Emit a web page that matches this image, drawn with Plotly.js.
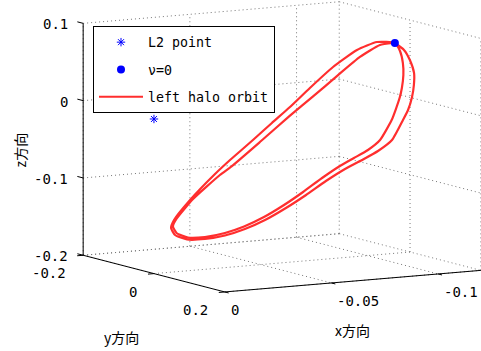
<!DOCTYPE html>
<html>
<head>
<meta charset="utf-8">
<script src="https://cdn.plot.ly/plotly-3.0.1.min.js"></script>
<style>html,body{margin:0;padding:0;background:#fff}#plot{width:481px;height:351px}</style>
</head>
<body>
<div id="plot"></div>
<script>
// ---- data: halo orbit, two revolutions ----
var orbitX = [-0.1129,-0.1155,-0.1166,-0.1169,-0.1160,-0.1143,-0.1116,-0.1084,-0.1016,-0.0942,-0.0859,-0.0771,-0.0673,-0.0580,-0.0489,-0.0401,-0.0320,-0.0243,-0.0169,-0.0112,-0.0079,-0.0080,-0.0114,-0.0219,-0.0369,-0.0456,-0.0580,-0.0677,-0.0770,-0.0855,-0.0947,-0.1026,-0.1078,-0.1129,
  -0.1133,-0.1130,-0.1119,-0.1102,-0.1086,-0.1059,-0.1031,-0.0960,-0.0895,-0.0821,-0.0747,-0.0655,-0.0566,-0.0480,-0.0396,-0.0316,-0.0243,-0.0169,-0.0116,-0.0086,-0.0089,-0.0125,-0.0233,-0.0392,-0.0465,-0.0618,-0.0766,-0.0870,-0.0965,-0.1040,-0.1092,-0.1120];
var orbitY = [0,0.01,0.02,0.03,0.035,0.04,0.045,0.05,0.06,0.065,0.07,0.075,0.08,0.08,0.078,0.072,0.064,0.054,0.042,0.026,0.012,0,-0.012,-0.03,-0.05,-0.06,-0.07,-0.075,-0.08,-0.075,-0.065,-0.045,-0.02,0,
  0.012,0.022,0.03,0.036,0.04,0.045,0.05,0.06,0.065,0.07,0.075,0.08,0.08,0.078,0.072,0.064,0.054,0.042,0.026,0.012,0,-0.012,-0.03,-0.05,-0.06,-0.07,-0.08,-0.075,-0.065,-0.045,-0.02,0];
var orbitZ = [0.0720,0.0636,0.0515,0.0359,0.0211,0.0066,-0.0090,-0.0206,-0.0437,-0.0556,-0.0647,-0.0737,-0.0864,-0.1023,-0.1173,-0.1315,-0.1422,-0.1500,-0.1542,-0.1554,-0.1505,-0.1429,-0.1347,-0.1134,-0.0857,-0.0708,-0.0490,-0.0298,-0.0119,0.0113,0.0375,0.0600,0.0721,0.0720,
  0.0630,0.0487,0.0344,0.0187,0.0079,-0.0064,-0.0194,-0.0424,-0.0532,-0.0613,-0.0693,-0.0821,-0.0981,-0.1132,-0.1275,-0.1388,-0.1467,-0.1516,-0.1529,-0.1480,-0.1411,-0.1337,-0.1125,-0.0875,-0.0788,-0.0512,-0.0240,0.0000,0.0253,0.0507,0.0679,0.0722];
var l2X = [0], l2Y = [0], l2Z = [0];
var nu0X = [-0.1129], nu0Y = [0], nu0Z = [0.0720];

var xRange = [-0.12, 0], yRange = [-0.2, 0.2], zRange = [-0.2, 0.1];
var xTicks = [-0.1, -0.05, 0], xTickText = ['-0.1', '-0.05', '0'];
var yTicks = [-0.2, 0, 0.2],   yTickText = ['-0.2', '0', '0.2'];
var zTicks = [-0.2, -0.1, 0, 0.1], zTickText = ['-0.2', '-0.1', '0', '0.1'];
var legendNames = ['L2 point', '\u03bd=0', 'left halo orbit'];
var axisTitles = ['x方向', 'y方向', 'z方向'];

// ---- 3D view (orthographic), like MATLAB view(az, el) ----
var AZ = 60.3 * Math.PI / 180, EL = 8.5 * Math.PI / 180;
var BOX = {x: 294.8, y: 285.8, z: 234.5};       // box edge lengths in screen px
var sA = Math.sin(AZ), cA = Math.cos(AZ), sE = Math.sin(EL), cE = Math.cos(EL);
function mid(r){ return (r[0] + r[1]) / 2; }
function span(r){ return r[1] - r[0]; }
function proj(x, y, z) {
  var nx = (x - mid(xRange)) / span(xRange) * BOX.x;
  var ny = (y - mid(yRange)) / span(yRange) * BOX.y;
  var nz = (z - mid(zRange)) / span(zRange) * BOX.z;
  return [ -sA * nx + cA * ny,
           -cA * sE * nx - sA * sE * ny + cE * nz ];
}
function projArrays(X, Y, Z) {
  var u = [], v = [];
  for (var i = 0; i < X.length; i++) { var p = proj(X[i], Y[i], Z[i]); u.push(p[0]); v.push(p[1]); }
  return {u: u, v: v};
}
function Seg() { this.u = []; this.v = []; }
Seg.prototype.add = function (a, b) {
  var p = proj(a[0], a[1], a[2]), q = proj(b[0], b[1], b[2]);
  this.u.push(p[0], q[0], null); this.v.push(p[1], q[1], null);
};
Seg.prototype.addPx = function (p, q) { this.u.push(p[0], q[0], null); this.v.push(p[1], q[1], null); };

var x0 = xRange[0], x1 = xRange[1], y0 = yRange[0], y1 = yRange[1], z0 = zRange[0], z1 = zRange[1];

// grid on the back planes (x = xmin, y = ymin, z = zmin)
var grid = new Seg();
xTicks.forEach(function (t) {
  grid.add([t, y0, z0], [t, y1, z0]);
  grid.add([t, y0, z0], [t, y0, z1]);
});
yTicks.forEach(function (t) {
  grid.add([x0, t, z0], [x1, t, z0]);
  grid.add([x0, t, z0], [x0, t, z1]);
});
zTicks.forEach(function (t) {
  grid.add([x0, y0, t], [x1, y0, t]);
  grid.add([x0, y0, t], [x0, y1, t]);
});

// axis lines
var axes = new Seg();
axes.add([x1, y0, z0], [x1, y0, z1]);     // z axis
axes.add([x1, y0, z0], [x1, y1, z0]);     // y axis
axes.add([x0, y1, z0], [x1, y1, z0]);     // x axis

// tick marks
var TL = 6;
function dirPx(d) {
  var p = proj(d[0] + mid(xRange), d[1] + mid(yRange), d[2] + mid(zRange));
  var n = Math.sqrt(p[0] * p[0] + p[1] * p[1]); return [p[0] / n, p[1] / n];
}
var ticks = new Seg();
var dZ = dirPx([0, -1, 0]), dY = dirPx([1, 0, 0]), dX = dirPx([0, 1, 0]);
zTicks.forEach(function (t) { var p = proj(x1, y0, t); ticks.addPx(p, [p[0] + TL * dZ[0], p[1] + TL * dZ[1]]); });
yTicks.forEach(function (t) { var p = proj(x1, t, z0); ticks.addPx(p, [p[0] + TL * dY[0], p[1] + TL * dY[1]]); });
xTicks.forEach(function (t) { var p = proj(t, y1, z0); ticks.addPx(p, [p[0] + 4 * dX[0], p[1] + 4 * dX[1]]); });

// tick labels and axis titles
var tickFont = {family: 'DejaVu Sans Mono', size: 14, color: '#000'};
var titleFont = {family: 'Noto Sans CJK JP', size: 14, color: '#000'};
var ann = [];
function label(p, text, xa, ya, dx, dy, font, angle) {
  ann.push({x: p[0], y: p[1], xref: 'x', yref: 'y', text: text, showarrow: false,
            xanchor: xa, yanchor: ya, xshift: dx, yshift: dy, font: font, textangle: angle || 0});
}
zTicks.forEach(function (t, i) { label(proj(x1, y0, t), zTickText[i], 'right', 'middle', -13, -1, tickFont); });
yTicks.forEach(function (t, i) { label(proj(x1, t, z0), yTickText[i], 'right', 'middle', -15, -18, tickFont); });
xTicks.forEach(function (t, i) { label(proj(t, y1, z0), xTickText[i], 'left', 'middle', 4, -18, tickFont); });
label(proj(mid(xRange), y1, z0), axisTitles[0], 'center', 'middle', 0, -49, titleFont);
label(proj(x1, mid(yRange), z0), axisTitles[1], 'center', 'middle', -32, -63, titleFont);
label(proj(x1, y0, mid(zRange)), axisTitles[2], 'center', 'middle', -63, -11, titleFont, -90);

var orb = projArrays(orbitX, orbitY, orbitZ);
var l2 = projArrays(l2X, l2Y, l2Z);
var nu = projArrays(nu0X, nu0Y, nu0Z);

var traces = [
  {type: 'scatter', mode: 'lines', x: grid.u, y: grid.v, showlegend: false, hoverinfo: 'skip',
   line: {color: '#777777', width: 1, dash: '1px,3px'}},
  {type: 'scatter', mode: 'lines', x: axes.u, y: axes.v, showlegend: false, hoverinfo: 'skip',
   line: {color: '#000', width: 1}},
  {type: 'scatter', mode: 'lines', x: ticks.u, y: ticks.v, showlegend: false, hoverinfo: 'skip',
   line: {color: '#000', width: 1}},
  {type: 'scatter', mode: 'markers', x: l2.u, y: l2.v, name: legendNames[0], legendrank: 1,
   marker: {symbol: 'asterisk-open', size: 7, color: '#0000ff', line: {color: '#0000ff', width: 1}}},
  {type: 'scatter', mode: 'lines', x: orb.u, y: orb.v, name: legendNames[2], legendrank: 3,
   line: {color: '#ff2e2e', width: 2.2, shape: 'spline', smoothing: 0.5}},
  {type: 'scatter', mode: 'markers', x: nu.u, y: nu.v, name: legendNames[1], legendrank: 2,
   marker: {symbol: 'circle', size: 8, color: '#0000ff'}}
];
traces.forEach(function (t, i) { if (t.showlegend !== false) t.legendgroup = 'g' + i; });

var layout = {
  width: 481, height: 351,
  margin: {l: 0, r: 0, t: 0, b: 0},
  paper_bgcolor: '#fff', plot_bgcolor: '#fff',
  showlegend: true,
  legend: {x: 93 / 481, y: 1 - 26 / 351, xanchor: 'left', yanchor: 'top', bgcolor: '#fff',
           bordercolor: '#000', borderwidth: 1, itemwidth: 44, tracegroupgap: 7,
           traceorder: 'grouped', font: {family: 'DejaVu Sans Mono', size: 13.3, color: '#000'}},
  hovermode: false,
  xaxis: {visible: false, range: [-282, 199], fixedrange: true},
  yaxis: {visible: false, range: [-204.15, 146.85], fixedrange: true},
  annotations: ann
};
Plotly.newPlot('plot', traces, layout, {displayModeBar: false, staticPlot: true});
</script>
</body>
</html>
